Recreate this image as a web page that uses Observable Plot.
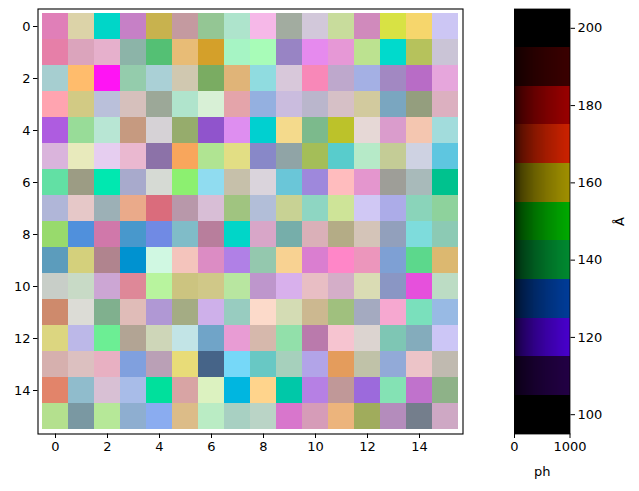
<!DOCTYPE html>
<html><head><meta charset="utf-8">
<script src="https://cdn.jsdelivr.net/npm/d3@7"></script>
<script src="https://cdn.jsdelivr.net/npm/@observablehq/plot@0.6"></script>
<style>
body{margin:0;background:#fff}
#wrap{position:relative;width:639px;height:491px;overflow:hidden}
#wrap > svg{position:absolute;top:0}
</style>
</head><body><div id="wrap"></div><script>
// 16x16 image of RGB colours, row 0 at top
const cellColors = [
  ["#e07fb8","#dcd3a8","#00d6c8","#c680c6","#c8b24e","#c49aa0","#94c694","#aee4cc","#f6b8e8","#a2aca0","#d2c8da","#c8dc9c","#d08abc","#d8e244","#f6d66c","#ccc6f4"],
  ["#e67fa8","#dba4bc","#e6b0cc","#8cb4a8","#54c074","#e8bc76","#d4a02a","#a6f4c4","#a8fcb8","#9884c4","#e68aee","#e698d6","#bce290","#00dacc","#b6c25c","#cac4d6"],
  ["#a6ced0","#ffbc6c","#ff14f4","#94ccac","#aad0d6","#d0c8b0","#7aac62","#e0b478","#90dce0","#d8c8da","#f888b8","#bea8cc","#a4b0e4","#a288c2","#b86cc6","#e6a6dc"],
  ["#ffa4b0","#d2ca84","#bac0da","#d6c0bc","#9ca898","#b0e4cc","#d8f0d6","#e4a4aa","#94b0e0","#cabcde","#bab6cc","#d6c0c6","#d2ca9e","#7aa6c0","#949e7e","#dcb0c0"],
  ["#ae5ce0","#98dc98","#b8e6d4","#c69a80","#d6d2d6","#96ac6c","#9054cc","#de8ef0","#00d0d0","#f4da8c","#7cba8c","#bcc22a","#e6d8d6","#da9ccc","#f4c6b0","#a2dcdc"],
  ["#dab4dc","#e8eabc","#e6cef0","#eab8d0","#8c72a8","#f8a65c","#b0e492","#e2de84","#8888c8","#90a4a6","#a4be58","#58cccc","#b6eac8","#c4cc96","#ced2e2","#5ec6e0"],
  ["#62e0a4","#9c9c84","#00e8b0","#a8aacc","#d6dad4","#8cf070","#90dcf0","#c6c0aa","#dad4dc","#6ac6d8","#9e88dc","#ffbcbe","#e496ce","#9e9e98","#a8baba","#00c28e"],
  ["#b0b6d8","#e6c8c8","#9cb0b6","#eaaa8a","#da6c7c","#b898aa","#d8bed6","#a0c480","#b2bed8","#c8d294","#8ed6c2","#cee498","#d0c8f4","#acace8","#8ad4ba","#8ed29c"],
  ["#98da6c","#5090dc","#d078aa","#4898cc","#708ae4","#80bcc8","#b87e9c","#00d6c8","#d8a6c8","#76aeaa","#dab0b8","#b4ac86","#d4c4b8","#92a0bc","#7edcdc","#8ccab4"],
  ["#5c9cbc","#d4d07c","#b0848e","#0092d0","#d0f8e2","#f4c4bc","#dc8cc4","#b080e6","#94c8ae","#f8d292","#da7ed0","#ff86c8","#ec96bc","#7ea0d4","#5cd88c","#dcb870"],
  ["#c8cec8","#c8dac6","#cca6d4","#de8898","#b8f49e","#ccc480","#d0c888","#b8e6a0","#be96cc","#d8b0ec","#e8bec4","#d4aec8","#dadcb4","#8a96c4","#e650dc","#bcdcc4"],
  ["#ce8a6c","#dcdcd6","#80b08e","#e0bcb8","#b098d4","#a4ac84","#ceb0ea","#98ccc0","#fcdaca","#d4dcb4","#ccb890","#a0c07e","#a4aac0","#f6a8d0","#7ae0bc","#98bae4"],
  ["#dcd680","#bcb8e8","#6cee94","#b2a494","#ced6b8","#c2e4e6","#70a4c8","#e89cd4","#d6b8ac","#92e0aa","#ba7aac","#f6c4d0","#dcd4d0","#7ec6b4","#84acbc","#ccc6f6"],
  ["#d6b0ae","#dcc0c0","#e8b0c2","#80a0de","#baa0b6","#e8dc78","#466488","#76d8f8","#68c8c4","#a6d0bc","#b2a4e8","#e49c5c","#c0c2a8","#92aad8","#ecc4c8","#c0bab0"],
  ["#e2846a","#90bccc","#d8c0d4","#a8bce8","#00e09c","#d8a4a4","#dcf2c0","#00b6e0","#ffd48c","#00c8a8","#b680e4","#c09898","#9c6adc","#84e2b4","#c072cc","#8eb288"],
  ["#b4e08e","#7a98a2","#b6e898","#8eaed0","#8aacf0","#dcbc88","#baecc4","#a8d0c2","#bad4c6","#d876cc","#d69cb8","#ecb47c","#a0ac5c","#b48cbc","#747e8c","#cea8c4"]
];
const axisTicks = [0, 2, 4, 6, 8, 10, 12, 14];

// colorbar: bands along Å, brightness ramp along ph
const bandEdges = [95, 105, 115, 125, 135, 145, 155, 165, 175, 185, 195, 205];
const bandColors = ["#000000","#220044","#4800cc","#003c99","#008a30","#00aa00","#a09000","#cc2200","#990000","#3a0000","#000000"];
const barTicks = [100, 120, 140, 160, 180, 200];
const phDomain = [0, 1000];
const phTicks = [0, 1000];

const font = {fontFamily: "DejaVu Sans, sans-serif", fontSize: "13px", color: "#000", background: "transparent"};

const cells = [];
cellColors.forEach((row, r) => row.forEach((c, k) => cells.push({row: r, col: k, color: c})));

const main = Plot.plot({
  width: 470, height: 491,
  marginLeft: 37.5, marginRight: 7.5, marginTop: 8.5, marginBottom: 57.5,
  style: font,
  x: {type: "band", domain: d3.range(16), padding: 0, label: null},
  y: {type: "band", domain: d3.range(16), padding: 0, label: null},
  marks: [
    Plot.cell(cells, {x: "col", y: "row", fill: "color", inset: 0}),
    Plot.axisX({anchor: "bottom", ticks: axisTicks, tickSize: 4.5, tickPadding: 3.5, label: null}),
    Plot.axisY({anchor: "left", ticks: axisTicks, tickSize: 4.5, tickPadding: 3, label: null}),
    Plot.frame({stroke: "#000", strokeWidth: 1.1})
  ]
});

const steps = 60;
const bars = [];
bandColors.forEach((c, i) => {
  const base = d3.rgb(c);
  for (let s = 0; s < steps; s++) {
    const x1 = phDomain[0] + (phDomain[1] - phDomain[0]) * s / steps;
    const x2 = phDomain[0] + (phDomain[1] - phDomain[0]) * (s + 1) / steps;
    const t = (s + 0.5) / steps;
    const f = 0.12 + 0.88 * Math.pow(t, 0.5);
    bars.push({x1, x2, y1: bandEdges[i], y2: bandEdges[i + 1],
      fill: d3.rgb(base.r * f, base.g * f, base.b * f).formatHex()});
  }
});

const cbar = Plot.plot({
  width: 169, height: 491,
  marginLeft: 44, marginRight: 69.5, marginTop: 8.5, marginBottom: 57.5,
  style: font,
  x: {domain: phDomain, label: null},
  y: {domain: [bandEdges[0], bandEdges[bandEdges.length - 1]], label: null},
  marks: [
    Plot.rect(bars, {x1: "x1", x2: "x2", y1: "y1", y2: "y2", fill: "fill", shapeRendering: "crispEdges"}),
    Plot.axisX({anchor: "bottom", ticks: phTicks, tickFormat: d3.format("d"), tickSize: 4.5, tickPadding: 3.5,
      label: "ph", labelAnchor: "center", labelArrow: "none", labelOffset: 42}),
    Plot.axisY({anchor: "right", ticks: barTicks, tickSize: 4.5, tickPadding: 3,
      label: "Å", labelAnchor: "center", labelArrow: "none", labelOffset: 54}),
    Plot.frame({stroke: "#000", strokeWidth: 0.8})
  ]
});
cbar.style.left = "470px";
main.style.left = "0px";
document.getElementById("wrap").append(main, cbar);
</script></body></html>
